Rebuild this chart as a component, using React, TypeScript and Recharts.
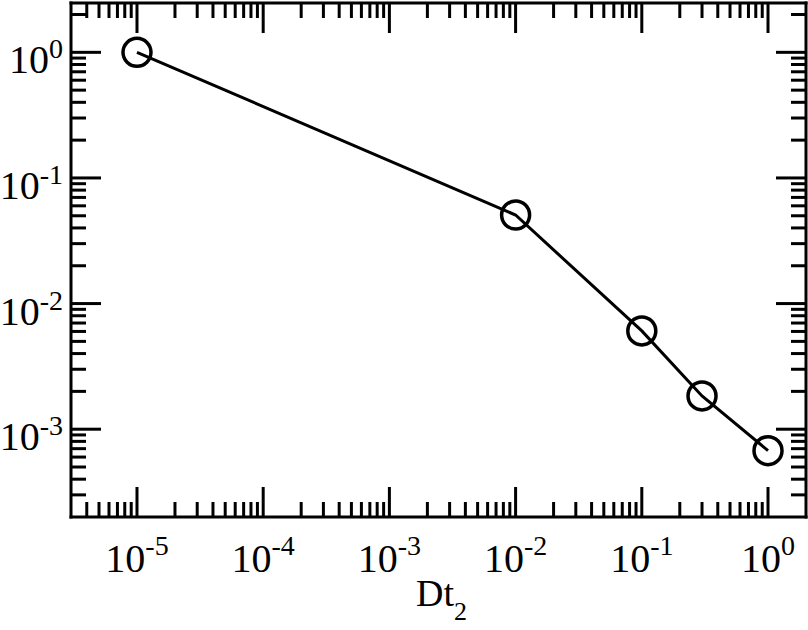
import React from 'react';
import { LineChart, Line, XAxis, YAxis } from 'recharts';

// ---- data ----
const dtValues = [1e-5, 1e-2, 1e-1, 0.3, 1];
const errValues = [1.0, 0.0507, 0.00606, 0.00184, 0.000675];

// ---- axis ticks ----
const xMajorTicks = [1e-5, 1e-4, 1e-3, 1e-2, 1e-1, 1];
const xMajorLabels = ['-5', '-4', '-3', '-2', '-1', '0'];
const yMajorTicks = [1, 1e-1, 1e-2, 1e-3];
const yMajorLabels = ['0', '-1', '-2', '-3'];
const xDomain: [number, number] = [3e-6, 2];
const yDomain: [number, number] = [2e-4, 2.47];
const xAxisTitle = 'Dt';
const xAxisTitleSub = '2';

const minorTicks = (fromExp: number, toExp: number, lo: number, hi: number) => {
  const out: number[] = [];
  for (let e = fromExp; e <= toExp; e++) {
    for (let m = 2; m <= 9; m++) {
      const v = m * Math.pow(10, e);
      if (v > lo * 1.0001 && v < hi * 0.9999) out.push(v);
    }
  }
  return out;
};

const xAllTicks = [...xMajorTicks, ...minorTicks(-6, 0, xDomain[0], xDomain[1])];
const yAllTicks = [...yMajorTicks, ...minorTicks(-4, 0, yDomain[0], yDomain[1])];

const data = dtValues.map((x, i) => ({ x, y: errValues[i] }));

const FONT = '"Liberation Serif", "Times New Roman", Times, serif';
const MAJOR = 30;
const MINOR = 15;
const TICK_W = 3;

const majorIndex = (v: number, arr: number[]) =>
  arr.findIndex((m) => Math.abs(Math.log10(m) - Math.log10(v)) < 1e-6);

const BottomTick = (props: any) => {
  const { x, y, payload } = props;
  const idx = majorIndex(payload.value, xMajorTicks);
  const len = idx >= 0 ? MAJOR : MINOR;
  return (
    <g>
      <line x1={x} y1={y} x2={x} y2={y - len} stroke="#000" strokeWidth={TICK_W} />
      {idx >= 0 && (
        <text x={x} y={y + 55} textAnchor="middle" fontFamily={FONT} fontSize={40} fill="#000">
          10
          <tspan dy={-17} fontSize={28}>{xMajorLabels[idx]}</tspan>
        </text>
      )}
    </g>
  );
};

const TopTick = (props: any) => {
  const { x, y, payload } = props;
  const idx = majorIndex(payload.value, xMajorTicks);
  const len = idx >= 0 ? MAJOR : MINOR;
  return <line x1={x} y1={y} x2={x} y2={y + len} stroke="#000" strokeWidth={TICK_W} />;
};

const LeftTick = (props: any) => {
  const { x, y, payload } = props;
  const idx = majorIndex(payload.value, yMajorTicks);
  const len = idx >= 0 ? MAJOR : MINOR;
  return (
    <g>
      <line x1={x} y1={y} x2={x + len} y2={y} stroke="#000" strokeWidth={TICK_W} />
      {idx >= 0 && (
        <text x={x - 8} y={y + 21} textAnchor="end" fontFamily={FONT} fontSize={40} fill="#000">
          10
          <tspan dy={-15} fontSize={28}>{yMajorLabels[idx]}</tspan>
        </text>
      )}
    </g>
  );
};

const RightTick = (props: any) => {
  const { x, y, payload } = props;
  const idx = majorIndex(payload.value, yMajorTicks);
  const len = idx >= 0 ? MAJOR : MINOR;
  return <line x1={x} y1={y} x2={x - len} y2={y} stroke="#000" strokeWidth={TICK_W} />;
};

const XTitle = (props: any) => {
  const vb = props.viewBox || {};
  const cx = (vb.x || 0) + (vb.width || 0) / 2;
  const y = (vb.y || 0) + 89;
  return (
    <text x={cx + 3} y={y} textAnchor="middle" fontFamily={FONT} fontSize={38} fill="#000">
      {xAxisTitle}
      <tspan dy={14} fontSize={26}>{xAxisTitleSub}</tspan>
    </text>
  );
};

const axisLine = { stroke: '#000', strokeWidth: 3, strokeLinecap: 'square' as const };

export default function App() {
  return (
    <div style={{ position: 'absolute', left: 0, top: 0, background: '#fff' }}>
      <LineChart width={808} height={630} data={data} margin={{ top: 0, right: 0, bottom: 0, left: 0 }}>
        <XAxis
          xAxisId="b"
          dataKey="x"
          type="number"
          scale="log"
          domain={xDomain}
          allowDataOverflow
          ticks={xAllTicks}
          interval={0}
          tick={BottomTick}
          tickLine={false}
          tickSize={0}
          tickMargin={0}
          axisLine={axisLine}
          height={113}
          orientation="bottom"
          label={<XTitle />}
        />
        <XAxis
          xAxisId="t"
          dataKey="x"
          type="number"
          scale="log"
          domain={xDomain}
          allowDataOverflow
          ticks={xAllTicks}
          interval={0}
          tick={TopTick}
          tickLine={false}
          tickSize={0}
          tickMargin={0}
          axisLine={axisLine}
          height={3}
          orientation="top"
        />
        <YAxis
          yAxisId="l"
          type="number"
          scale="log"
          domain={yDomain}
          allowDataOverflow
          ticks={yAllTicks}
          interval={0}
          tick={LeftTick}
          tickLine={false}
          tickSize={0}
          tickMargin={0}
          axisLine={axisLine}
          width={71}
          orientation="left"
        />
        <YAxis
          yAxisId="r"
          type="number"
          scale="log"
          domain={yDomain}
          allowDataOverflow
          ticks={yAllTicks}
          interval={0}
          tick={RightTick}
          tickLine={false}
          tickSize={0}
          tickMargin={0}
          axisLine={axisLine}
          width={2}
          orientation="right"
        />
        <Line
          xAxisId="b"
          yAxisId="l"
          dataKey="y"
          type="linear"
          stroke="#000"
          strokeWidth={3}
          dot={{ r: 14, stroke: '#000', strokeWidth: 3.5, fill: 'none' }}
          isAnimationActive={false}
        />
      </LineChart>
    </div>
  );
}
